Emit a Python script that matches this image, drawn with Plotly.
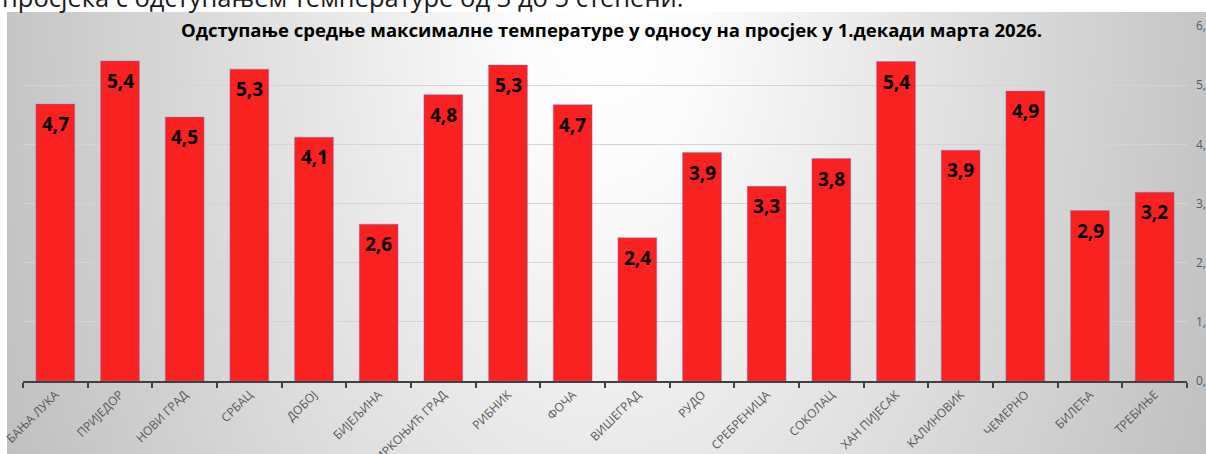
import base64
import plotly.graph_objects as go

stations = ["БАЊА ЛУКА", "ПРИЈЕДОР", "НОВИ ГРАД", "СРБАЦ", "ДОБОЈ", "БИЈЕЉИНА",
            "МРКОЊИЋ ГРАД", "РИБНИК", "ФОЧА", "ВИШЕГРАД", "РУДО", "СРЕБРЕНИЦА",
            "СОКОЛАЦ", "ХАН ПИЈЕСАК", "КАЛИНОВИК", "ЧЕМЕРНО", "БИЛЕЋА", "ТРЕБИЊЕ"]
values = [4.68, 5.41, 4.46, 5.27, 4.12, 2.65, 4.84, 5.34, 4.67, 2.42, 3.86, 3.29,
          3.76, 5.40, 3.90, 4.90, 2.88, 3.19]
labels = ["4,7", "5,4", "4,5", "5,3", "4,1", "2,6", "4,8", "5,3", "4,7", "2,4", "3,9",
          "3,3", "3,8", "5,4", "3,9", "4,9", "2,9", "3,2"]
y_tickvals = [0, 1, 2, 3, 4, 5, 6]
y_ticktext = ["0,0", "1,0", "2,0", "3,0", "4,0", "5,0", "6,0"]

title_text = "Одступање средње максималне температуре у односу на просјек у 1.декади марта 2026."
top_text = "просјека с одступањем температуре од 3 до 5 степени."

W, H = 1206, 454
L, R, T, B = 23, 19, 26, 73
PW, PH = W - L - R, H - T - B


def px_x(p):
    return (p - L) / PW


def px_y(p):
    return (H - B - p) / PH


# background panel with radial gradient
svg = (
    '<svg xmlns="http://www.w3.org/2000/svg" width="1199" height="442" '
    'viewBox="0 0 1199 442" preserveAspectRatio="none">'
    '<defs><radialGradient id="g" gradientUnits="userSpaceOnUse" cx="600" cy="0" r="650" '
    'gradientTransform="translate(600 0) scale(1 1.7) translate(-600 0)">'
    '<stop offset="0" stop-color="#ffffff"/>'
    '<stop offset="0.15" stop-color="#fbfbfb"/>'
    '<stop offset="1" stop-color="#c0c0c0"/>'
    '</radialGradient></defs>'
    '<rect x="0" y="0" width="1199" height="442" fill="url(#g)"/></svg>'
)
bg_uri = "data:image/svg+xml;base64," + base64.b64encode(svg.encode()).decode()

fig = go.Figure()
fig.add_trace(go.Bar(
    x=stations, y=values,
    marker=dict(color="#FA2121", line=dict(color="rgba(120,120,210,0.45)", width=1)),
    hoverinfo="skip",
))

annotations = []
for s, v, t in zip(stations, values, labels):
    annotations.append(dict(
        x=s, y=v, xref="x", yref="y", text=t, showarrow=False,
        yanchor="middle", yshift=-20,
        font=dict(family="Open Sans", size=19, color="#000000", weight="bold"),
    ))
annotations.append(dict(
    x=px_x(611), y=px_y(30), xref="paper", yref="paper", text=title_text,
    showarrow=False, xanchor="center", yanchor="middle",
    font=dict(family="Open Sans", size=18.5, color="#000000", weight="bold"),
))
annotations.append(dict(
    x=px_x(0), y=px_y(16), xref="paper", yref="paper", text=top_text,
    showarrow=False, xanchor="left", yanchor="bottom",
    font=dict(family="Open Sans", size=25.5, color="#1a1a1a"),
))

fig.update_layout(
    width=W, height=H,
    margin=dict(l=L, r=R, t=T, b=B, pad=0),
    paper_bgcolor="#ffffff", plot_bgcolor="rgba(0,0,0,0)",
    showlegend=False, bargap=0.4,
    font=dict(family="Open Sans"),
    images=[dict(
        source=bg_uri, xref="paper", yref="paper",
        x=px_x(7), y=px_y(12), sizex=(W - 7) / PW, sizey=(H - 12) / PH,
        xanchor="left", yanchor="top", sizing="stretch", layer="below",
    )],
    annotations=annotations,
    xaxis=dict(
        type="category", range=[-0.5, len(stations) - 0.5],
        tickson="boundaries", ticks="outside", ticklen=5, tickwidth=1.5,
        tickcolor="#404040", showline=True, linecolor="#404040", linewidth=2,
        tickangle=-45, tickfont=dict(family="Open Sans", size=12, color="#595959"),
        showgrid=False, automargin=False, fixedrange=True,
    ),
    yaxis=dict(
        side="right", range=[0, 6], tickvals=y_tickvals, ticktext=y_ticktext,
        showgrid=True, gridcolor="#d4d4d4", gridwidth=1, zeroline=False,
        showline=False, ticks="", ticklabelstandoff=8,
        tickfont=dict(family="Open Sans", size=12, color="#595959"),
        automargin=False, fixedrange=True,
    ),
)

fig.write_html(
    "out.html",
    config={"displayModeBar": False},
    post_script="document.body.style.margin='0';document.body.style.overflow='hidden';",
)
